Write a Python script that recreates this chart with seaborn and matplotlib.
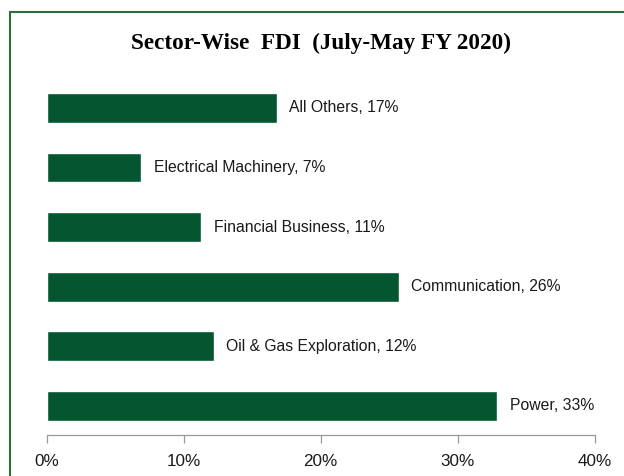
import matplotlib
matplotlib.use("Agg")
import matplotlib.pyplot as plt
import matplotlib.patches as patches
import seaborn as sns
import pandas as pd

# data
sectors = ["All Others", "Electrical Machinery", "Financial Business",
           "Communication", "Oil & Gas Exploration", "Power"]
shares = [16.8, 6.9, 11.3, 25.7, 12.2, 32.9]
x_ticks = [0, 10, 20, 30, 40]

df = pd.DataFrame({"Sector": sectors, "Share": shares})

sns.set_style("white")
plt.rcParams["font.family"] = ["Liberation Sans", "DejaVu Sans"]

fig = plt.figure(figsize=(6.24, 4.76), dpi=100)
ax = fig.add_axes([46.5 / 624, 1 - 435 / 476, 548 / 624, 361 / 476])

bar_color = "#03562f"
sns.barplot(data=df, x="Share", y="Sector", orient="h", color=bar_color,
            width=0.5, saturation=1, ax=ax)

# labels to the right of each bar
for i, (name, val) in enumerate(zip(sectors, shares)):
    ax.annotate(f"{name}, {val:.0f}%", xy=(val, i), xytext=(9, 0),
                textcoords="offset points", va="center", ha="left",
                fontsize=11.3, color="#1a1a1a")

ax.set_xlim(0, 40)
ax.set_ylim(5.49, -0.57)
ax.set_xticks(x_ticks)
ax.set_xticklabels([f"{t}%" for t in x_ticks], fontsize=12.3, color="#1a1a1a")
ax.set_yticks([])
ax.set_xlabel("")
ax.set_ylabel("")
ax.tick_params(axis="x", bottom=True, direction="out", length=6, width=0.9,
               color="#999999", pad=8)

for s in ["left", "top", "right"]:
    ax.spines[s].set_visible(False)
ax.spines["bottom"].set_color("#999999")
ax.spines["bottom"].set_linewidth(0.9)

fig.text(321 / 624, 1 - 43 / 476, "Sector-Wise  FDI  (July-May FY 2020)",
         ha="center", va="center", fontsize=16.7, fontweight="bold",
         color="black", family=["Liberation Serif", "DejaVu Serif"])

# green frame around the chart area (cut off at right and bottom)
frame = patches.Rectangle((10 / 624, -0.1), 1.1, 1 - 12 / 476 + 0.1,
                          transform=fig.transFigure, fill=False,
                          edgecolor="#2f6e3c", linewidth=1.5)
fig.patches.append(frame)

fig.savefig("out.png", dpi=100)
